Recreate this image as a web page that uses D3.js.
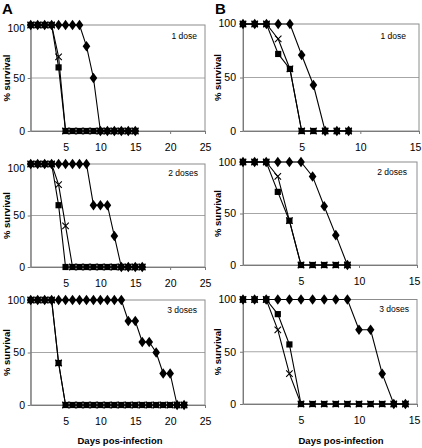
<!DOCTYPE html>
<html><head><meta charset="utf-8">
<script src="https://cdn.jsdelivr.net/npm/d3@7"></script>
<style>
html,body{margin:0;padding:0;background:#fff;}
text{font-family:"Liberation Sans",Arial,sans-serif;fill:#000;}
</style></head>
<body><svg id="c" width="422" height="448"></svg>
<script>
// ---------- DATA ----------
const yTicks = [0, 50, 100];
const xTicksA = [5, 10, 15, 20, 25];
const xTicksB = [5, 10, 15];

// Panel A, 1 dose
const daysA1 = [0,1,2,3,4,5,6,7,8,9,10,11,12,13,14,15];
const sqA1 = [100,100,100,100,60,0,0,0,0,0,0,0,0,0,0,0];
const crA1 = [100,100,100,100,70,0,0,0,0,0,0,0,0,0,0,0];
const diA1 = [100,100,100,100,100,100,100,100,80,50,0,0,0,0,0,0];
// Panel A, 2 doses
const daysA2 = [0,1,2,3,4,5,6,7,8,9,10,11,12,13,14,15,16];
const sqA2 = [100,100,100,100,60,0,0,0,0,0,0,0,0,0,0,0,0];
const crA2 = [100,100,100,100,80,40,0,0,0,0,0,0,0,0,0,0,0];
const diA2 = [100,100,100,100,100,100,100,100,100,60,60,60,30,0,0,0,0];
// Panel A, 3 doses
const daysA3 = [0,1,2,3,4,5,6,7,8,9,10,11,12,13,14,15,16,17,18,19,20,21,22];
const sqA3 = [100,100,100,100,40,0,0,0,0,0,0,0,0,0,0,0,0,0,0,0,0,0,0];
const crA3 = [100,100,100,100,40,0,0,0,0,0,0,0,0,0,0,0,0,0,0,0,0,0,0];
const diA3 = [100,100,100,100,100,100,100,100,100,100,100,100,100,100,80,80,60,60,50,30,30,0,0];
// Panel B, 1 dose
const daysB1 = [0,1,2,3,4,5,6,7,8,9];
const sqB1 = [100,100,100,72,58,0,0,0,0,0];
const crB1 = [100,100,100,86,58,0,0,0,0,0];
const diB1 = [100,100,100,100,100,71,43,0,0,0];
// Panel B, 2 doses
const daysB2 = [0,1,2,3,4,5,6,7,8,9];
const sqB2 = [100,100,100,71,43,0,0,0,0,0];
const crB2 = [100,100,100,86,43,0,0,0,0,0];
const diB2 = [100,100,100,100,100,100,86,57,29,0];
// Panel B, 3 doses
const daysB3 = [0,1,2,3,4,5,6,7,8,9,10,11,12,13,14];
const sqB3 = [100,100,100,86,57,0,0,0,0,0,0,0,0,0,0];
const crB3 = [100,100,100,71,29,0,0,0,0,0,0,0,0,0,0];
const diB3 = [100,100,100,100,100,100,100,100,100,100,71,71,29,0,0];

const doseLabels = ["1 dose", "2 doses", "3 doses"];
const xTitle = "Days pos-infection";
const yTitle = "% survival";

// ---------- LAYOUT ----------
const panels = [
  {days:daysA1, sq:sqA1, cr:crA1, di:diA1, xMax:25, xt:xTicksA, x0:30.7, x1:205, yT:25, yB:131, lab:doseLabels[0], lx:197, ly:38.5, pad:2.7, topDy:3.5, ytx:7, lastDx:0},
  {days:daysA2, sq:sqA2, cr:crA2, di:diA2, xMax:25, xt:xTicksA, x0:30.7, x1:205, yT:164, yB:267, lab:doseLabels[1], lx:198, ly:176, pad:2.7, topDy:4.5, ytx:7, lastDx:0},
  {days:daysA3, sq:sqA3, cr:crA3, di:diA3, xMax:25, xt:xTicksA, x0:30.7, x1:205, yT:300, yB:405, lab:doseLabels[2], lx:197, ly:313, pad:2.7, topDy:0.5, ytx:7, lastDx:0},
  {days:daysB1, sq:sqB1, cr:crB1, di:diB1, xMax:15, xt:xTicksB, x0:243, x1:419, yT:24, yB:131, lab:doseLabels[0], lx:406, ly:38.5, pad:4, topDy:-1, ytx:218, lastDx:-4},
  {days:daysB2, sq:sqB2, cr:crB2, di:diB2, xMax:15, xt:xTicksB, x0:243, x1:417, yT:162, yB:265, lab:doseLabels[1], lx:407, ly:175, pad:4, topDy:0, ytx:218, lastDx:-3},
  {days:daysB3, sq:sqB3, cr:crB3, di:diB3, xMax:15, xt:xTicksB, x0:243, x1:417, yT:299.5, yB:404, lab:doseLabels[2], lx:409, ly:312, pad:4, topDy:0, ytx:218, lastDx:-3}
];

const svg = d3.select("#c");
const gridCol = "#a6a6a6", frameCol = "#8c8c8c", axisCol = "#7a7a7a";

svg.append("text").attr("x", 2).attr("y", 14).attr("font-size", 15).attr("font-weight", "bold").text("A");
svg.append("text").attr("x", 215).attr("y", 14).attr("font-size", 15).attr("font-weight", "bold").text("B");

const diamond = (s) => `M0,${-s*0.62}L${s*0.45},0L0,${s*0.62}L${-s*0.45},0Z`;
const squareP = (s) => `M${-s/2},${-s/2}h${s}v${s}h${-s}Z`;
const crossP = (s) => `M${-s/2},${-s/2}L${s/2},${s/2}M${s/2},${-s/2}L${-s/2},${s/2}`;

panels.forEach(p => {
  const x = d3.scaleLinear().domain([0, p.xMax]).range([p.x0, p.x1]);
  const y = d3.scaleLinear().domain([0, 100]).range([p.yB, p.yT]);
  const g = svg.append("g");

  g.append("line").attr("x1", p.x0).attr("x2", p.x1).attr("y1", y(50)).attr("y2", y(50))
    .attr("stroke", gridCol).attr("stroke-width", 1);
  g.append("rect").attr("x", p.x0).attr("y", p.yT).attr("width", p.x1 - p.x0).attr("height", p.yB - p.yT)
    .attr("fill", "none").attr("stroke", frameCol).attr("stroke-width", 1);

  const ya = g.append("g").attr("transform", `translate(${p.x0},0)`)
    .call(d3.axisLeft(y).tickValues(yTicks).tickSize(3).tickSizeOuter(0).tickPadding(p.pad).tickFormat(d3.format("d")));
  ya.select(".domain").attr("stroke", axisCol);
  ya.selectAll(".tick line").attr("stroke", axisCol);
  ya.selectAll("text").attr("font-size", 10.5).attr("font-family", "Liberation Sans, Arial, sans-serif")
    .attr("dy", d => d === 100 ? (0.32*10.5 + p.topDy) + "px" : "0.32em");

  const xa = g.append("g").attr("transform", `translate(0,${p.yB})`)
    .call(d3.axisBottom(x).tickValues(p.xt).tickSize(3).tickSizeOuter(0).tickPadding(10).tickFormat(d3.format("d")));
  xa.select(".domain").attr("stroke", axisCol);
  xa.selectAll(".tick line").attr("stroke", axisCol);
  xa.selectAll("text").attr("font-size", 10.5).attr("font-family", "Liberation Sans, Arial, sans-serif")
    .attr("dx", (d, i, n) => i === n.length - 1 ? p.lastDx : 0);

  g.append("text").attr("x", p.lx).attr("y", p.ly).attr("text-anchor", "end").attr("font-size", 8.5).text(p.lab);

  g.append("text").attr("transform", `translate(${p.ytx + 3.3},${(p.yT + p.yB) / 2}) rotate(-90)`)
    .attr("text-anchor", "middle").attr("font-size", 9.5).attr("font-weight", "bold").text(yTitle);

  const line = d3.line().x(d => x(d[0])).y(d => y(d[1]));
  const series = [
    {vals: p.di, shape: "di"},
    {vals: p.cr, shape: "cr"},
    {vals: p.sq, shape: "sq"}
  ];
  series.forEach(s => {
    const pts = p.days.map((d, i) => [d, s.vals[i]]);
    g.append("path").attr("d", line(pts)).attr("fill", "none").attr("stroke", "#000").attr("stroke-width", 1.1);
  });
  series.forEach(s => {
    const pts = p.days.map((d, i) => [d, s.vals[i]]);
    const m = g.append("g").selectAll("path").data(pts).join("path")
      .attr("transform", d => `translate(${x(d[0])},${y(d[1])})`);
    if (s.shape === "sq") m.attr("d", squareP(6.2)).attr("fill", "#000");
    else if (s.shape === "di") m.attr("d", diamond(8.5)).attr("fill", "#000");
    else m.attr("d", crossP(6.5)).attr("fill", "none").attr("stroke", "#000").attr("stroke-width", 1.1);
  });
});

svg.append("text").attr("x", 120).attr("y", 443.5).attr("text-anchor", "middle")
  .attr("font-size", 9.5).attr("font-weight", "bold").text(xTitle);
svg.append("text").attr("x", 341).attr("y", 443.5).attr("text-anchor", "middle")
  .attr("font-size", 9.5).attr("font-weight", "bold").text(xTitle);
</script></body></html>
